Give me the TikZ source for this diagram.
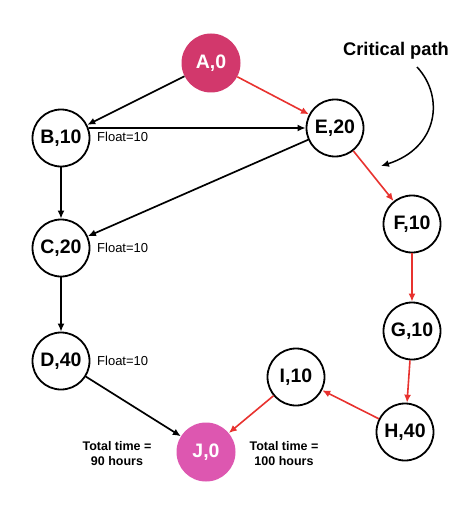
\documentclass[tikz,border=0pt]{standalone}
\usepackage{fontspec}
\setmainfont{Liberation Sans}
\usetikzlibrary{arrows.meta}
\definecolor{acol}{HTML}{D2386C}
\definecolor{jcol}{HTML}{DD57B0}
\definecolor{redc}{HTML}{E8322F}
\begin{document}
\begin{tikzpicture}[x=1pt,y=-1pt,
  ev/.style={circle, draw, line width=1.8pt, minimum size=57pt, inner sep=0pt,
    font=\fontsize{19.5}{19.5}\selectfont\bfseries},
  evfill/.style={circle, minimum size=59pt, inner sep=0pt, text=white,
    font=\fontsize{19.5}{19.5}\selectfont\bfseries},
  blk/.style={line width=1.7pt, -{Latex[length=8pt,width=7pt]}},
  red/.style={line width=1.6pt, draw=redc, -{Latex[length=8pt,width=7pt]}},
  flt/.style={anchor=west, inner sep=0pt, font=\fontsize{13}{13}\selectfont},
  tot/.style={align=center, inner sep=0pt, font=\fontsize{12.5}{15}\selectfont\bfseries},
]
\useasboundingbox[fill=white] (0,0) rectangle (474,516);
\node[evfill, fill=acol] (A) at (211,63) {A,0};
\node[ev] (B) at (61,138) {B,10};
\node[ev] (E) at (335,128) {E,20};
\node[ev] (C) at (61,248) {C,20};
\node[ev] (F) at (412,224) {F,10};
\node[ev] (G) at (412,331) {G,10};
\node[ev] (D) at (61,361) {D,40};
\node[ev] (I) at (296,377) {I,10};
\node[ev] (H) at (405,432) {H,40};
\node[evfill, fill=jcol] (J) at (206,452) {J,0};

\node[flt] (fb) at (97,137) {Float=10};
\node[flt] (fc) at (97,248) {Float=10};
\node[flt] (fd) at (97,361) {Float=10};

\node[tot] (t1) at (117,454) {Total time =\\90 hours};
\node[tot] (t2) at (284,454) {Total time =\\100 hours};

\node[inner sep=0pt, font=\fontsize{18.3}{18.3}\selectfont\bfseries] (cp) at (396,51) {Critical path};
\coordinate (cps) at (417,67);
\coordinate (cpe) at (381,166);
\draw[line width=1.5pt, -{Latex[length=8pt,width=7pt]}] (cps) .. controls (445,97) and (438,148) .. (cpe);

\draw[blk] (A) -- (B);
\draw[blk] (B.20) -- (E.west);
\draw[blk] (E) -- (C);
\draw[blk] (B) -- (C);
\draw[blk] (C) -- (D);
\draw[blk] (D) -- (J);

\draw[red] (A) -- (E);
\draw[red] (E) -- (F);
\draw[red] (F) -- (G);
\draw[red] (G) -- (H);
\draw[red] (H) -- (I);
\draw[red] (I) -- (J);
\end{tikzpicture}
\end{document}
